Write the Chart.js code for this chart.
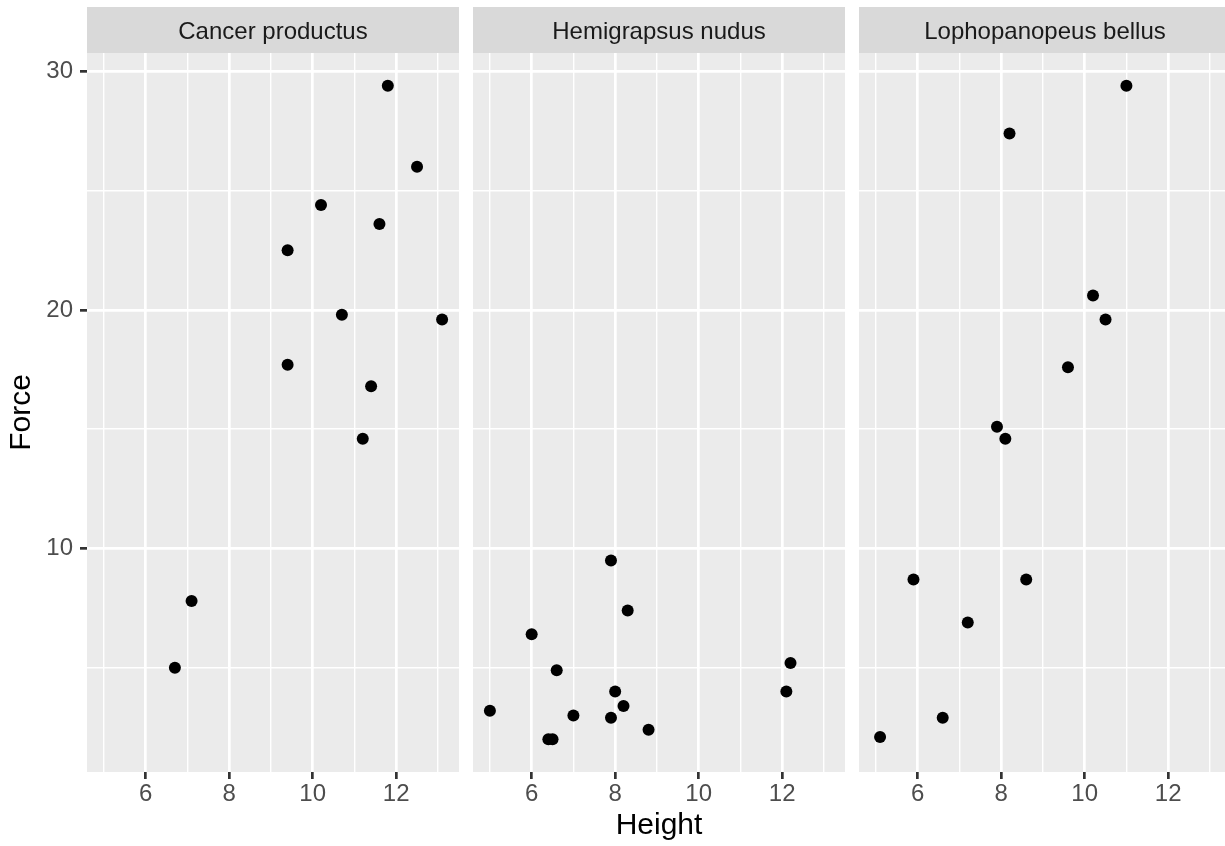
<!DOCTYPE html>
<html><head><meta charset="utf-8">
<script src="https://cdn.jsdelivr.net/npm/chart.js@4.4.1/dist/chart.umd.min.js"></script>
<style>
html,body{margin:0;padding:0;overflow:hidden;background:#fff;width:1225px;height:846px;position:relative;}
canvas{position:absolute;top:0;}
</style></head><body>
<canvas id="c1" width="459" height="846" style="left:0px"></canvas>
<canvas id="c2" width="372" height="846" style="left:473px"></canvas>
<canvas id="c3" width="372" height="846" style="left:859px"></canvas>
<script>
// ---- data ----
const species = ['Cancer productus', 'Hemigrapsus nudus', 'Lophopanopeus bellus'];
const cancerHeight = [11.8, 12.5, 10.2, 11.6, 9.4, 10.7, 13.1, 9.4, 11.4, 11.2, 6.7, 7.1];
const cancerForce  = [29.4, 26.0, 24.4, 23.6, 22.5, 19.8, 19.6, 17.7, 16.8, 14.6, 5.0, 7.8];
const hemiHeight = [7.9, 8.3, 6.0, 6.6, 12.2, 12.1, 8.0, 8.2, 5.0, 7.0, 7.9, 8.8, 6.4, 6.5];
const hemiForce  = [9.5, 7.4, 6.4, 4.9, 5.2, 4.0, 4.0, 3.4, 3.2, 3.0, 2.9, 2.4, 2.0, 2.0];
const lophoHeight = [11.0, 8.2, 10.2, 10.5, 9.6, 7.9, 8.1, 5.9, 8.6, 7.2, 6.6, 5.1];
const lophoForce  = [29.4, 27.4, 20.6, 19.6, 17.6, 15.1, 14.6, 8.7, 8.7, 6.9, 2.9, 2.1];
const xMajorTicks = [6, 8, 10, 12];
const xMinorTicks = [5, 7, 9, 11, 13];
const yMajorTicks = [10, 20, 30];
const yMinorTicks = [5, 15, 25];
const xLimits = [4.595, 13.505];
const yLimits = [0.63, 30.77];
const xTitle = 'Height';
const yTitle = 'Force';

const FAMILY = '"Liberation Sans", Arial, Helvetica, sans-serif';

const panelPlugin = {
  id: 'panel',
  beforeDraw(chart, args, opts) {
    const {ctx, chartArea: a} = chart;
    ctx.save();
    ctx.fillStyle = '#EBEBEB';
    ctx.fillRect(a.left, a.top, a.right - a.left, a.bottom - a.top);
    ctx.fillStyle = '#D9D9D9';
    ctx.fillRect(a.left, 7, a.right - a.left, a.top - 7);
    ctx.fillStyle = '#1A1A1A';
    ctx.font = '24px ' + FAMILY;
    ctx.textAlign = 'center';
    ctx.textBaseline = 'alphabetic';
    ctx.fillText(opts.label, (a.left + a.right) / 2, 39);
    ctx.restore();
  }
};

function sortedTicks(a, b) { return a.concat(b).sort((p, q) => p - q); }

function makeChart(id, idx, xs, ys, showY, showXTitle) {
  return new Chart(document.getElementById(id), {
    type: 'scatter',
    data: { datasets: [{
      data: xs.map((x, i) => ({x: x, y: ys[i]})),
      backgroundColor: '#000000', borderColor: '#000000',
      pointRadius: 6, pointHoverRadius: 6, borderWidth: 0
    }]},
    plugins: [panelPlugin],
    options: {
      responsive: false, animation: false, events: [],
      layout: { autoPadding: false, padding: { top: 53, left: 0, right: 0, bottom: 0 } },
      plugins: { legend: {display: false}, tooltip: {enabled: false}, panel: {label: species[idx]} },
      scales: {
        x: {
          type: 'linear', position: 'bottom', min: xLimits[0], max: xLimits[1],
          afterBuildTicks: s => { s.ticks = sortedTicks(xMajorTicks, xMinorTicks).map(v => ({value: v})); },
          afterFit: s => { s.height = 74; },
          grid: {
            color: '#FFFFFF',
            lineWidth: c => (c.tick && xMajorTicks.includes(c.tick.value)) ? 2.7 : 1.4,
            drawTicks: true, tickLength: 7, tickWidth: 2.7,
            tickColor: c => (c.tick && xMajorTicks.includes(c.tick.value)) ? '#333333' : 'rgba(0,0,0,0)'
          },
          border: { display: false },
          ticks: {
            font: { size: 24, family: FAMILY, lineHeight: 1.2 }, color: '#4D4D4D',
            padding: 1, maxRotation: 0, minRotation: 0, autoSkip: false,
            callback: v => xMajorTicks.includes(v) ? String(v) : ''
          },
          title: { display: showXTitle, text: xTitle, color: '#000000',
                   font: { size: 30, family: FAMILY, lineHeight: 1.2 }, padding: { top: 0, bottom: 2.5 } }
        },
        y: {
          type: 'linear', position: 'left', min: yLimits[0], max: yLimits[1],
          afterBuildTicks: s => { s.ticks = sortedTicks(yMajorTicks, yMinorTicks).map(v => ({value: v})); },
          afterFit: s => { s.width = showY ? 87 : 0; },
          grid: {
            color: '#FFFFFF',
            lineWidth: c => (c.tick && yMajorTicks.includes(c.tick.value)) ? 2.7 : 1.4,
            drawTicks: showY, tickLength: 7, tickWidth: 2.7,
            tickColor: c => (c.tick && yMajorTicks.includes(c.tick.value)) ? '#333333' : 'rgba(0,0,0,0)'
          },
          border: { display: false },
          ticks: {
            display: showY,
            font: { size: 24, family: FAMILY, lineHeight: 1.2 }, color: '#4D4D4D',
            padding: 7, autoSkip: false,
            callback: v => yMajorTicks.includes(v) ? String(v) : ''
          },
          title: { display: showY, text: yTitle, color: '#000000',
                   font: { size: 30, family: FAMILY, lineHeight: 1.2 }, padding: { top: 4, bottom: 0 } }
        }
      }
    }
  });
}

makeChart('c1', 0, cancerHeight, cancerForce, true, false);
makeChart('c2', 1, hemiHeight, hemiForce, false, true);
makeChart('c3', 2, lophoHeight, lophoForce, false, false);
</script>
</body></html>
